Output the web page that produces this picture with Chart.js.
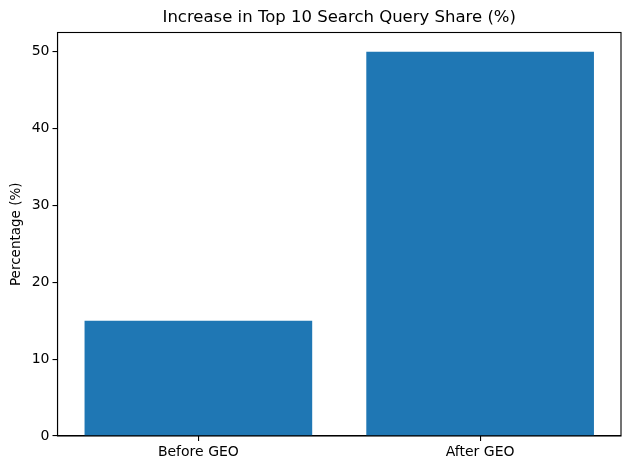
<!DOCTYPE html>
<html>
<head>
<meta charset="utf-8">
<script src="https://cdn.jsdelivr.net/npm/chart.js@4"></script>
<style>
html,body{margin:0;padding:0;background:#fff;}
#wrap{width:630px;height:470px;}
</style>
</head>
<body>
<div id="wrap"><canvas id="c" width="630" height="470"></canvas></div>
<script>
const categories = ["Before GEO", "After GEO"];
const shareValues = [15, 50];
const yTicks = [0, 10, 20, 30, 40, 50];

const frame = {
  id: 'frame',
  afterDraw(chart) {
    const a = chart.chartArea, ctx = chart.ctx;
    ctx.save();
    ctx.strokeStyle = '#000';
    ctx.lineWidth = 1.1;
    ctx.strokeRect(a.left, a.top, a.right - a.left, a.bottom - a.top);
    ctx.restore();
  }
};

new Chart(document.getElementById('c'), {
  type: 'bar',
  data: {
    labels: categories,
    datasets: [{
      data: shareValues,
      backgroundColor: '#1f77b4',
      borderWidth: 0,
      categoryPercentage: 1.0,
      barPercentage: 0.808
    }]
  },
  plugins: [frame],
  options: {
    responsive: false,
    animation: false,
    devicePixelRatio: 1,
    layout: { padding: { left: 0, right: 9, top: 0, bottom: 0 } },
    plugins: {
      legend: { display: false },
      tooltip: { enabled: false },
      title: {
        display: true,
        fullSize: false,
        text: 'Increase in Top 10 Search Query Share (%)',
        color: '#000',
        font: { family: 'DejaVu Sans', size: 16.5, weight: 'normal' },
        padding: { top: 7.5, bottom: 5.2 }
      }
    },
    scales: {
      x: {
        afterFit(s) { s.height = 34; },
        grid: { display: true, drawOnChartArea: false, drawTicks: true, tickLength: 5, tickColor: '#000', offset: false, lineWidth: 1.1 },
        border: { display: true, color: '#000', width: 1.1 },
        ticks: { color: '#000', font: { family: 'DejaVu Sans', size: 14 }, padding: 3 }
      },
      y: {
        min: 0,
        max: 52.5,
        afterFit(s) { s.width = 57.5; },
        afterBuildTicks(s) { s.ticks = yTicks.map(v => ({ value: v })); },
        grid: { display: true, drawOnChartArea: false, drawTicks: true, tickLength: 5, tickColor: '#000', lineWidth: 1.1 },
        border: { display: true, color: '#000', width: 1.1 },
        ticks: { color: '#000', font: { family: 'DejaVu Sans', size: 14 }, padding: 3 },
        title: {
          display: true,
          text: 'Percentage (%)',
          color: '#000',
          font: { family: 'DejaVu Sans', size: 13.5 },
          padding: { top: 8, bottom: 4 }
        }
      }
    }
  }
});
</script>
</body>
</html>
